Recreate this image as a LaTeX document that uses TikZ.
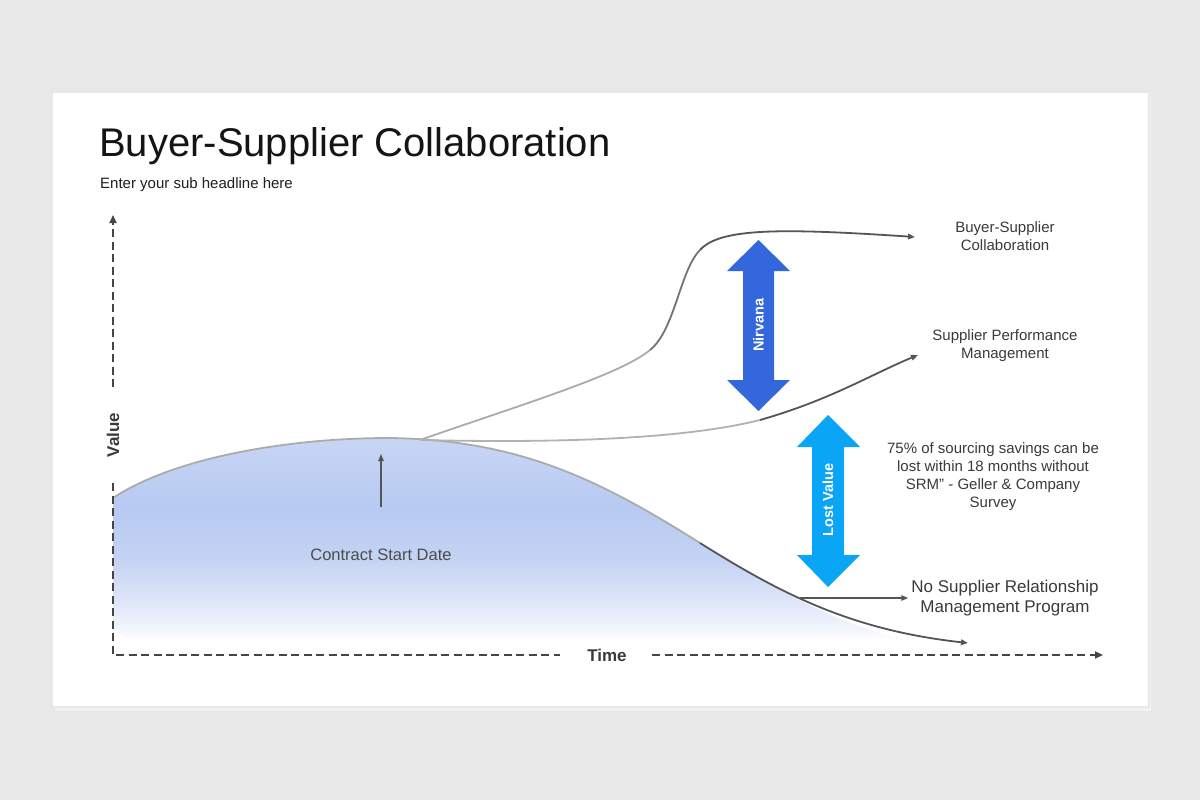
\documentclass[tikz,border=0pt]{standalone}
\usepackage{fontspec}
\setmainfont{Liberation Sans}
\usetikzlibrary{arrows.meta}
\definecolor{bg}{HTML}{E9E8E9}
\definecolor{txt}{HTML}{3A3A3A}
\definecolor{axisc}{HTML}{454545}
\definecolor{nirv}{HTML}{3367DB}
\definecolor{lost}{HTML}{0AA5F5}
\definecolor{lightc}{HTML}{ABABAB}
\definecolor{darkc}{HTML}{555555}
\definecolor{shA}{HTML}{F3F6FD}
\definecolor{shB}{HTML}{DDE5F8}
\definecolor{shC}{HTML}{C4D3F3}
\definecolor{shD}{HTML}{B7CAF1}
\definecolor{shE}{HTML}{C8D6F5}
\pgfdeclareverticalshading{areashade}{100bp}{color(0bp)=(white); color(25bp)=(white); color(27.5bp)=(shA); color(35bp)=(shB); color(45bp)=(shC); color(58bp)=(shD); color(75bp)=(shE); color(100bp)=(shE)}
\tikzset{
  axisline/.style={draw=axisc, line width=1.8pt, dash pattern=on 8pt off 4.5pt},
  tipax/.style={-{Triangle[length=8pt,width=7pt]}},
  curvelight/.style={draw=lightc, line width=1.8pt},
  curvedark/.style={draw=darkc, line width=1.8pt},
  tipsmall/.style={-{Triangle[length=7pt,width=5.5pt]}},
  lbl/.style={text=txt, font=\fontsize{15}{18}\selectfont, align=center, inner sep=0pt},
  arrowtxt/.style={text=white, font=\fontsize{14.5}{17}\selectfont\bfseries, rotate=90, inner sep=0pt},
}
\begin{document}
\begin{tikzpicture}[x=1pt,y=-1pt]
\useasboundingbox (0,0) rectangle (1200,800);
\fill[bg] (0,0) rectangle (1200,800);
% slide with soft shadow
\fill[black!5] (55,97) rectangle (1151,711);
\fill[black!9] (54,95) rectangle (1149.5,708);
\fill[white] (53,93) rectangle (1148,706);
% title
\node[anchor=base west, inner sep=0pt, text=black!92, font=\fontsize{40}{44}\selectfont] (title) at (99,156) {Buyer-Supplier Collaboration};
\node[anchor=base west, inner sep=0pt, text=black!88, font=\fontsize{15}{18}\selectfont] (sub) at (100,188) {Enter your sub headline here};
% filled area
\shade[shading=areashade]
  (113,498) .. controls (170,460) and (280,438) .. (390,438)
  .. controls (520,440) and (600,480) .. (700,543)
  .. controls (780,593) and (850,630) .. (910,640)
  -- (140,640) .. controls (122,640) and (113,630) .. (113,615) -- cycle;
% curves
\coordinate (start) at (113,498);
\coordinate (peak) at (390,438);
\coordinate (fork) at (420,440);
\coordinate (mid) at (700,543);
\coordinate (top1) at (650,350);
\coordinate (top2) at (700,250);
\coordinate (topE) at (915,237);
\coordinate (midA) at (760,420);
\coordinate (midE) at (918,355);
\coordinate (botE) at (968,643);
\draw[curvelight] (start) .. controls (170,460) and (280,438) .. (peak);
\draw[curvelight] (peak) .. controls (520,440) and (600,480) .. (mid);
\draw[curvedark, tipsmall] (mid) .. controls (780,593) and (850,630) .. (botE);
\draw[curvelight] (fork) .. controls (520,405) and (620,375) .. (top1);
\draw[draw=black!55, line width=1.8pt] (top1) .. controls (675,330) and (680,270) .. (top2);
\draw[curvedark, tipsmall] (top2) .. controls (720,228) and (780,228) .. (topE);
\draw[draw=black!30, line width=1.8pt] (fork) .. controls (550,443) and (680,440) .. (midA);
\draw[curvedark, tipsmall] (midA) .. controls (830,400) and (870,375) .. (midE);
% axes
\coordinate (O) at (113,655);
\coordinate (ylo) at (113,483);
\coordinate (yhi) at (113,387);
\coordinate (ytop) at (113,215);
\coordinate (xlo) at (560,655);
\coordinate (xhi) at (652,655);
\coordinate (xend) at (1103,655);
\draw[axisline] (ylo) -- (O) -- (xlo);
\draw[axisline, tipax] (yhi) -- (ytop);
\draw[axisline, tipax] (xhi) -- (xend);
\node[rotate=90, text=txt, font=\fontsize{17}{20}\selectfont\bfseries, inner sep=0pt] (value) at (113,435) {Value};
\node[text=txt, font=\fontsize{17}{20}\selectfont\bfseries, inner sep=0pt] (time) at (607,655) {Time};
% contract start
\coordinate (cs1) at (381,507);
\coordinate (cs2) at (381,454);
\draw[draw=darkc, line width=1.2pt, tipsmall] (cs1) -- (cs2);
\node[text=black!70, font=\fontsize{16.5}{20}\selectfont, inner sep=0pt] (contract) at (381,555) {Contract Start Date};
% nirvana arrow
\fill[nirv] (758.5,240) -- (790,271) -- (774,271) -- (774,380) -- (790,380) -- (758.5,411)
  -- (727,380) -- (743,380) -- (743,271) -- (727,271) -- cycle;
\node[arrowtxt] (nirvana) at (758.5,325) {Nirvana};
% lost value arrow
\fill[lost] (828,415) -- (860,447) -- (844,447) -- (844,555) -- (860,555) -- (828,587)
  -- (797,555) -- (812,555) -- (812,447) -- (797,447) -- cycle;
\node[arrowtxt] (lostv) at (828,500) {Lost Value};
% labels
\node[lbl] (bsc) at (1005,236) {Buyer-Supplier\\Collaboration};
\node[lbl] (spm) at (1005,346) {Supplier Performance\\Management};
\node[lbl] (quote) at (993,477) {75\% of sourcing savings can be\\lost within 18 months without\\SRM" - Geller \& Company\\Survey};
\node[lbl, font=\fontsize{17}{20}\selectfont] (nosrm) at (1005,598) {No Supplier Relationship\\Management Program};
\coordinate (nsa) at (800,598);
\draw[draw=darkc, line width=1.2pt, tipsmall] (nsa) -- ([xshift=-3pt]nosrm.west);
\end{tikzpicture}
\end{document}
